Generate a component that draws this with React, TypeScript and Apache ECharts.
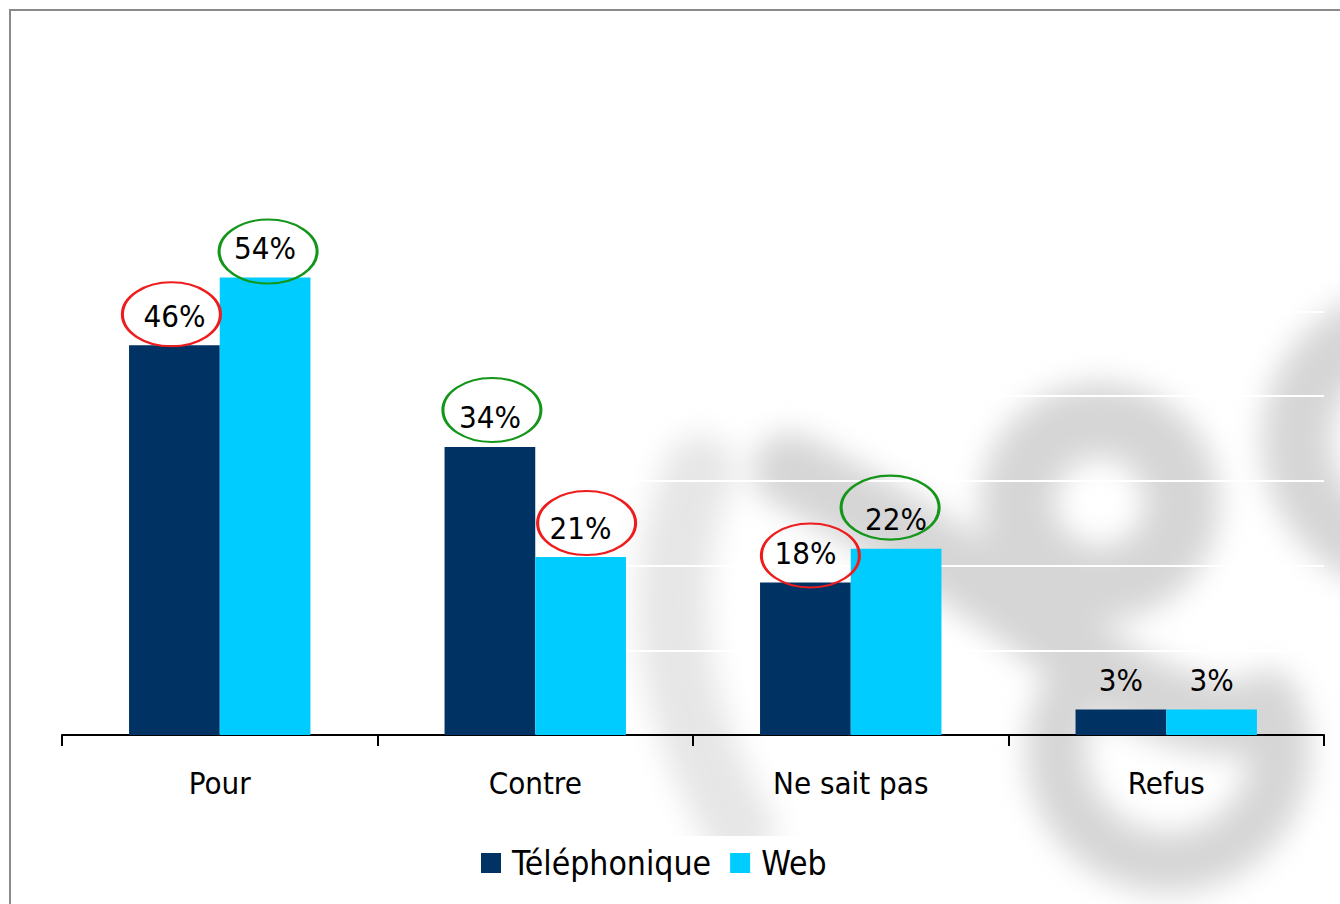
import React, { useEffect, useRef } from "react";
import * as echarts from "echarts";

const categories = ["Pour", "Contre", "Ne sait pas", "Refus"];
const telephonique = [46, 34, 18, 3];
const web = [54, 21, 22, 3];
// ellipse highlight colour key per bar ("r" red, "g" green, "" none)
const telHighlight = ["r", "g", "r", ""];
const webHighlight = ["g", "r", "g", ""];

const FONT = "'DejaVu Sans Condensed', 'DejaVu Sans', sans-serif";

const wmSvg = `<svg xmlns="http://www.w3.org/2000/svg" width="1340" height="904" viewBox="0 0 1340 904">
<defs><filter id="b" filterUnits="userSpaceOnUse" x="0" y="0" width="1340" height="904"><feGaussianBlur stdDeviation="15"/></filter></defs>
<g filter="url(#b)" fill="none" stroke="#d6d6d6" stroke-linecap="round">
<circle cx="1100" cy="502" r="82" stroke-width="75"/>
<path d="M1068 700 A112 112 0 1 0 1268 700" stroke-width="60"/>
<circle cx="1415" cy="440" r="118" stroke-width="70"/>
<path d="M790 470 Q 960 560 1060 640 T 1250 720" stroke-width="75"/>
<path d="M700 470 Q 630 640 740 830" stroke-width="70" stroke="#e6e6e6"/>
</g></svg>`;
const wmUrl = "data:image/svg+xml;charset=utf-8," + encodeURIComponent(wmSvg);

export default function App() {
  const ref = useRef<HTMLDivElement>(null);
  useEffect(() => {
    if (!ref.current) return;
    const chart = echarts.init(ref.current, null, { renderer: "svg" });
    const colorOf = (k: string) => (k === "r" ? "#ee1c1c" : "#14961a");
    const ellipsePath = "path://M0 50A50 50 0 1 1 100 50A50 50 0 1 1 0 50Z";
    const telNudge = [[-3, -1], [2, -7], [5, 3], [0, 0]];
    const webNudge = [[3, 4], [6, -4], [-6, -11], [0, 0]];
    const mk = (vals: number[], hl: string[], nudge: number[][]) => ({
      symbol: ellipsePath,
      symbolSize: [98, 64],
      silent: true,
      label: { show: false },
      data: vals
        .map((v, i) => ({ v, i }))
        .filter((d) => hl[d.i])
        .map((d) => ({
          coord: [d.i, d.v],
          symbolOffset: [nudge[d.i][0], -30 + nudge[d.i][1]],
          itemStyle: { color: "rgba(0,0,0,0)", borderColor: colorOf(hl[d.i]), borderWidth: 2.5 },
        })),
    });
    const label = {
      show: true,
      position: "top",
      distance: 14,
      formatter: "{c}%",
      fontFamily: FONT,
      fontSize: 31,
      color: "#000",
    };
    chart.setOption({
      animation: false,
      backgroundColor: "#fff",
      graphic: [
        { type: "image", z: -10, style: { image: wmUrl, x: 0, y: 0, width: 1340, height: 904 } },
        {
          type: "rect",
          z: 100,
          shape: { x: 10, y: 10, width: 1400, height: 1000 },
          style: { fill: "none", stroke: "#8a8a8a", lineWidth: 2 },
        },
      ],
      grid: { left: 62, right: 16, top: 142, bottom: 169 },
      xAxis: {
        type: "category",
        data: categories,
        axisLine: { lineStyle: { color: "#000", width: 2 } },
        axisTick: { show: true, length: 11, lineStyle: { color: "#000", width: 2 } },
        axisLabel: { margin: 32, fontFamily: FONT, fontSize: 31, color: "#000" },
      },
      yAxis: {
        type: "value",
        min: 0,
        max: 70,
        interval: 10,
        axisLabel: { show: false },
        axisLine: { show: false },
        axisTick: { show: false },
        splitLine: { lineStyle: { color: "#ffffff", width: 2 } },
      },
      legend: {
        left: 470,
        top: 836,
        backgroundColor: "#fff",
        padding: [10, 11],
        itemWidth: 20,
        itemHeight: 20,
        itemGap: 19,
        icon: "rect",
        textStyle: { fontFamily: FONT, fontSize: 33.5, color: "#000", padding: [0, 0, 0, 6] },
        data: ["Téléphonique", "Web"],
      },
      series: [
        {
          name: "Téléphonique",
          type: "bar",
          data: telephonique,
          barGap: "0%",
          barCategoryGap: "42.5%",
          itemStyle: { color: "#003264" },
          label,
          markPoint: mk(telephonique, telHighlight, telNudge),
        },
        {
          name: "Web",
          type: "bar",
          data: web,
          barGap: "0%",
          barCategoryGap: "42.5%",
          itemStyle: { color: "#00ccff" },
          label,
          markPoint: mk(web, webHighlight, webNudge),
        },
      ],
    });
    return () => chart.dispose();
  }, []);
  return (
    <div
      ref={ref}
      style={{ position: "fixed", left: 0, top: 0, width: 1340, height: 904, background: "#fff" }}
    />
  );
}
